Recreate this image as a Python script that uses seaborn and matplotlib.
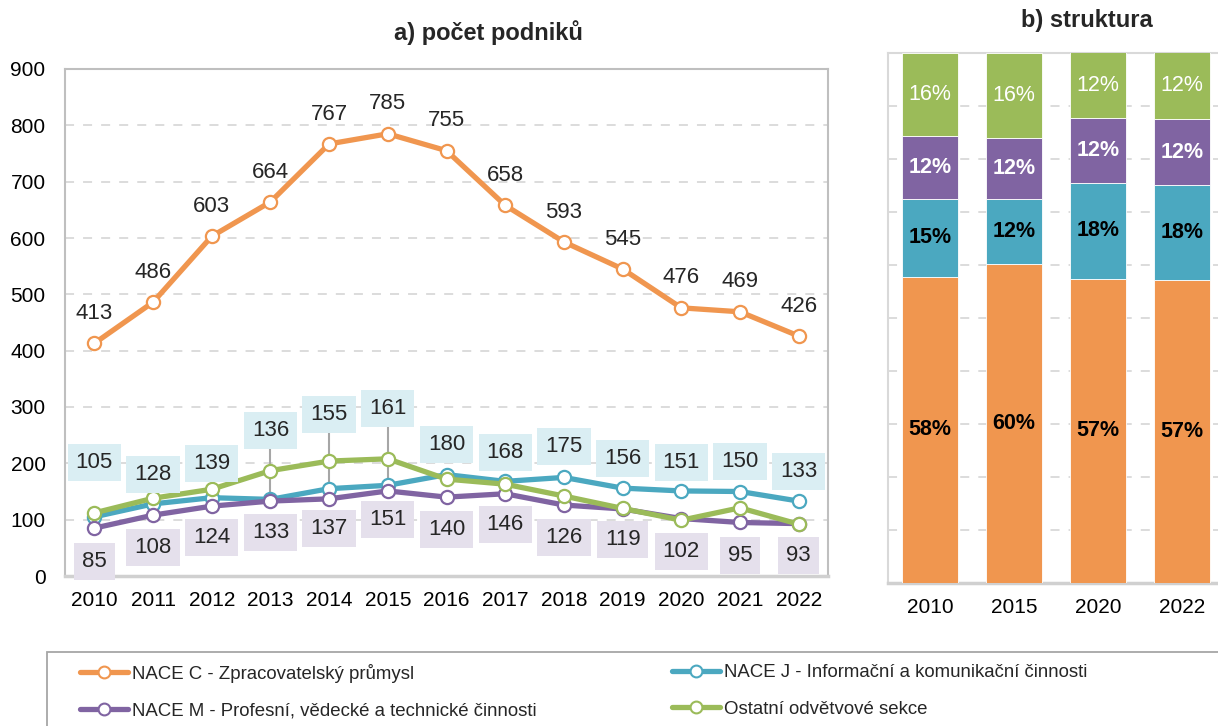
import numpy as np
import pandas as pd
import seaborn as sns
import matplotlib.pyplot as plt
from matplotlib.lines import Line2D
from matplotlib.patches import Rectangle

# --- data ---
years = [2010, 2011, 2012, 2013, 2014, 2015, 2016, 2017, 2018, 2019, 2020, 2021, 2022]
nace_c = [413, 486, 603, 664, 767, 785, 755, 658, 593, 545, 476, 469, 426]
nace_j = [105, 128, 139, 136, 155, 161, 180, 168, 175, 156, 151, 150, 133]
nace_m = [85, 108, 124, 133, 137, 151, 140, 146, 126, 119, 102, 95, 93]
ostatni = [112, 138, 154, 187, 204, 208, 172, 163, 142, 120, 99, 121, 92]

struct_years = ["2010", "2015", "2020", "2022"]
share_c = [57.8, 60.1, 57.4, 57.2]
share_j = [14.6, 12.3, 18.1, 17.8]
share_m = [11.9, 11.6, 12.3, 12.5]
share_o = [15.7, 16.0, 12.3, 12.6]
lab_c = ["58%", "60%", "57%", "57%"]
lab_j = ["15%", "12%", "18%", "18%"]
lab_m = ["12%", "12%", "12%", "12%"]
lab_o = ["16%", "16%", "12%", "12%"]

names = ["NACE C - Zpracovatelský průmysl",
         "NACE J - Informační a komunikační činnosti",
         "NACE M - Profesní, vědecké a technické činnosti",
         "Ostatní odvětvové sekce"]
colors = ["#F0964F", "#4BA8C0", "#8064A2", "#9BBB59"]

# label placement (layout only)
j_label_y = [202, 181, 200, 259, 286, 298, 234, 220, 229, 208, 202, 204, 185]
m_label_y = [25, 51, 69, 78, 85, 101, 83, 91, 69, 64, 44, 37, 36]
j_leader = [2013, 2014, 2015]

sns.set_theme(style="white")
plt.rcParams["font.family"] = ["Liberation Sans", "DejaVu Sans"]

fig = plt.figure(figsize=(12.18, 7.26), dpi=100)
W, H = 1218, 726


def fig_rect(x0, y0, x1, y1):
    return [x0 / W, 1 - y1 / H, (x1 - x0) / W, (y1 - y0) / H]


ax = fig.add_axes(fig_rect(65, 69, 828, 576))
ax2 = fig.add_axes(fig_rect(888, 53, 1218, 583))

LBL = 16
TCK = 15

# --- a) line chart ---
df = pd.DataFrame({"rok": years * 4,
                   "pocet": nace_c + nace_j + nace_m + ostatni,
                   "sekce": np.repeat(names, len(years))})
for name, col in zip(names, colors):
    sub = df[df["sekce"] == name]
    sns.lineplot(data=sub, x="rok", y="pocet", ax=ax, color=col, lw=3.8,
                 marker="o", markersize=9.5, markerfacecolor="white",
                 markeredgecolor=col, markeredgewidth=1.6, zorder=3)

ax.set_xlim(2009.5, 2022.5)
ax.set_ylim(0, 900)
ax.set_yticks(range(0, 901, 100))
ax.set_xticks(years)
ax.set_xlabel("")
ax.set_ylabel("")
ax.tick_params(axis="both", length=0, labelsize=TCK, colors="#000000")
ax.tick_params(axis="y", pad=14)
ax.tick_params(axis="x", pad=11)
ax.yaxis.grid(True, color="#D9D9D9", lw=1.3, ls=(0, (5, 5)))
ax.set_axisbelow(True)
for s in ax.spines.values():
    s.set_color("#BFBFBF")
    s.set_linewidth(1.5)
ax.spines["bottom"].set_color("#D0D0D0")
ax.spines["bottom"].set_linewidth(2.5)

for x, v in zip(years, nace_c):
    ax.annotate(str(v), (x, v), xytext=(0, 21.5), textcoords="offset points",
                ha="center", va="center", fontsize=LBL)

for x, v, ly in zip(years, nace_j, j_label_y):
    if x in j_leader:
        ax.plot([x, x], [v, ly], color="#A6A6A6", lw=1.5, zorder=2)
    ax.text(x, ly, str(v), ha="center", va="center", fontsize=LBL, zorder=4,
            bbox=dict(boxstyle="square,pad=0.36", fc="#DAEEF3", ec="none"))

for x, v, ly in zip(years, nace_m, m_label_y):
    ax.text(x, ly, str(v), ha="center", va="center", fontsize=LBL, zorder=4,
            bbox=dict(boxstyle="square,pad=0.36", fc="#E5E0EC", ec="none"))

fig.text(488 / W, 1 - 33 / H, "a) počet podniků", ha="center", va="center",
         fontsize=17, fontweight="bold")

# --- b) structure ---
pos = np.arange(len(struct_years))
bottom = np.zeros(len(struct_years))
segs = [(share_c, lab_c, colors[0], "black", "bold"),
        (share_j, lab_j, colors[1], "black", "bold"),
        (share_m, lab_m, colors[2], "white", "bold"),
        (share_o, lab_o, colors[3], "white", "normal")]
for vals, labs, col, tcol, tw in segs:
    vals = np.array(vals)
    ax2.bar(pos, vals, bottom=bottom, width=0.67, color=col,
            edgecolor="white", linewidth=0.6, zorder=3)
    for p, b, v, t in zip(pos, bottom, vals, labs):
        ax2.text(p, b + v / 2, t, ha="center", va="center", fontsize=15.5,
                 color=tcol, fontweight=tw, zorder=4)
    bottom += vals

ax2.set_xlim(-0.5, 3.43)
ax2.set_ylim(0, 100)
ax2.set_yticks(range(0, 101, 10))
ax2.set_yticklabels([])
ax2.set_xticks(pos)
ax2.set_xticklabels(struct_years)
ax2.tick_params(axis="both", length=0, labelsize=TCK, colors="#000000")
ax2.tick_params(axis="x", pad=11)
ax2.yaxis.grid(True, color="#D9D9D9", lw=1.3, ls=(0, (5, 5)))
ax2.set_axisbelow(True)
for s in ax2.spines.values():
    s.set_color("#D9D9D9")
    s.set_linewidth(1.5)
ax2.spines["right"].set_visible(False)
ax2.spines["bottom"].set_color("#D0D0D0")
ax2.spines["bottom"].set_linewidth(2.5)

fig.text(1087 / W, 1 - 21 / H, "b) struktura", ha="center", va="center",
         fontsize=17, fontweight="bold")

# --- legend ---
fig.patches.append(Rectangle((47 / W, -0.05), 1.0, 0.05 + 1 - 652 / H,
                             transform=fig.transFigure, fill=False,
                             ec="#A6A6A6", lw=1.3))


def handle(col):
    return Line2D([], [], color=col, lw=3.8, marker="o", markersize=8.5,
                  markerfacecolor="white", markeredgecolor=col,
                  markeredgewidth=1.5)


leg_kw = dict(frameon=False, fontsize=13.4, handlelength=2.6, handletextpad=0.2,
              labelspacing=1.05, borderpad=0, borderaxespad=0, loc="upper left")
fig.legend([handle(colors[0]), handle(colors[2])], [names[0], names[2]],
           bbox_to_anchor=(80 / W, 1 - 664 / H), **leg_kw)
fig.legend([handle(colors[1]), handle(colors[3])], [names[1], names[3]],
           bbox_to_anchor=(672 / W, 1 - 664 / H), **leg_kw)

fig.savefig("out.png", dpi=100)
